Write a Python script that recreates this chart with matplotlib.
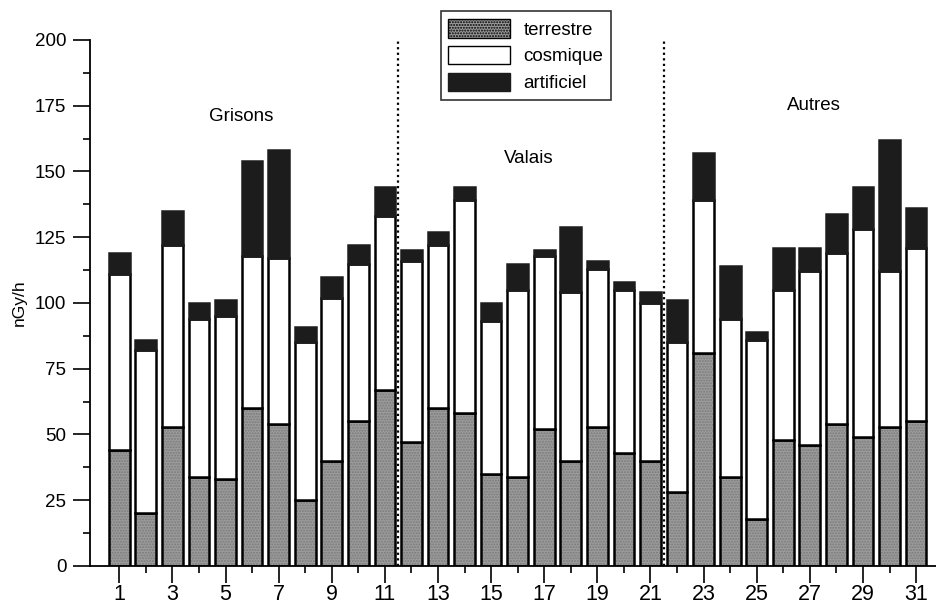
import numpy as np
import matplotlib.pyplot as plt
from matplotlib.patches import Patch

# debit de dose ambiant par site (nGy/h)
sites = np.arange(1, 32)
terrestre = [44, 20, 53, 34, 33, 60, 54, 25, 40, 55, 67,
             47, 60, 58, 35, 34, 52, 40, 53, 43, 40,
             28, 81, 34, 18, 48, 46, 54, 49, 53, 55]
cosmique = [67, 62, 69, 60, 62, 58, 63, 60, 62, 60, 66,
            69, 62, 81, 58, 71, 66, 64, 60, 62, 60,
            57, 58, 60, 68, 57, 66, 65, 79, 59, 66]
artificiel = [8, 4, 13, 6, 6, 36, 41, 6, 8, 7, 11,
              4, 5, 5, 7, 10, 2, 25, 3, 3, 4,
              16, 18, 20, 3, 16, 9, 15, 16, 50, 15]
regions = ['Grisons', 'Valais', 'Autres']
region_label_pos = [(5.6, 171), (16.4, 155), (27.15, 175)]
separators = [11.5, 21.5]

plt.rcParams['font.family'] = ['Liberation Sans', 'DejaVu Sans']

fig = plt.figure(figsize=(9.36, 6.05), dpi=100)
ax = fig.add_axes([0.0962, 0.0645, 0.9038, 0.8694])

gris = '#9c9c9c'
noir = '#1c1c1c'
w = 0.78
bot2 = np.array(terrestre) + np.array(cosmique)

ax.bar(sites, terrestre, w, color=gris, edgecolor='#7a7a7a', linewidth=0, hatch='......', zorder=2)
ax.bar(sites, terrestre, w, fill=False, edgecolor='black', linewidth=1.8, zorder=3)
ax.bar(sites, cosmique, w, bottom=terrestre, color='white', edgecolor='black', linewidth=1.8, zorder=3)
ax.bar(sites, artificiel, w, bottom=bot2, color=noir, edgecolor=noir, linewidth=1.8, zorder=3)

for xs in separators:
    ax.axvline(xs, ymin=0, ymax=1, color='black', linestyle=(0, (1, 1.5)), linewidth=1.6, zorder=4)

for name, (xp, yp) in zip(regions, region_label_pos):
    ax.text(xp, yp, name, ha='center', va='center', fontsize=13.5)

ax.set_xlim(-0.1, 31.75)
ax.set_ylim(0, 200)

ax.set_yticks(np.arange(0, 201, 25))
ax.set_yticks(np.arange(12.5, 200, 25), minor=True)
ax.set_xticks(np.arange(1, 32, 2))
ax.set_xticks(np.arange(2, 31, 2), minor=True)
ax.tick_params(axis='y', which='major', length=12, width=1.2, labelsize=13.5, pad=5)
ax.tick_params(axis='y', which='minor', length=5, width=1.2)
ax.tick_params(axis='x', which='major', length=12, width=1.2, labelsize=15.5, pad=1)
ax.tick_params(axis='x', which='minor', length=5, width=1.2)

for s in ['top', 'right']:
    ax.spines[s].set_visible(False)
for s in ['left', 'bottom']:
    ax.spines[s].set_linewidth(1.3)

ax.set_ylabel('nGy/h', fontsize=12.5, labelpad=6)

handles = [Patch(facecolor=gris, edgecolor='black', hatch='......', label='terrestre'),
           Patch(facecolor='white', edgecolor='black', label='cosmique'),
           Patch(facecolor=noir, edgecolor=noir, label='artificiel')]
leg = fig.legend(handles=handles, loc='upper left', bbox_to_anchor=(0.471, 0.981),
                 borderaxespad=0, fontsize=13.5, frameon=True, fancybox=False,
                 edgecolor='black', handlelength=3.3, handleheight=1.15,
                 labelspacing=0.38, borderpad=0.4, handletextpad=0.7)
leg.get_frame().set_linewidth(1.2)

fig.savefig('out.png', dpi=100)
